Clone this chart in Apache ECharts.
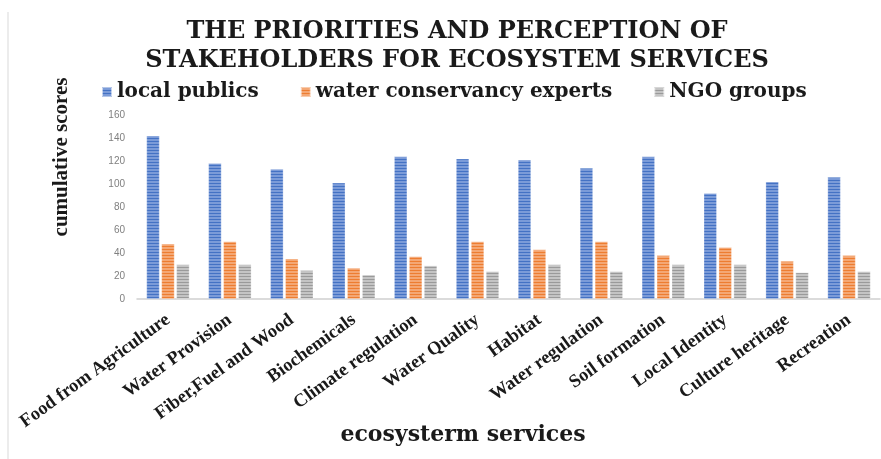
<!DOCTYPE html>
<html>
<head>
<meta charset="utf-8">
<script src="https://cdn.jsdelivr.net/npm/echarts@6/dist/echarts.min.js"></script>
<style>
  html, body { margin: 0; padding: 0; background: #fff; }
  #chart { width: 881px; height: 459px; }
</style>
</head>
<body>
<div id="chart"></div>
<script>
// ecosystem services (x categories)
const categories = [
  "Food from Agriculture", "Water Provision", "Fiber,Fuel and Wood", "Biochemicals",
  "Climate regulation", "Water Quality", "Habitat", "Water regulation",
  "Soil formation", "Local Identity", "Culture heritage", "Recreation"
];
// cumulative scores per group
const localPublics = [142, 118, 113, 101, 124, 122, 121, 114, 124, 92, 102, 106];
const waterExperts = [48, 50, 35, 27, 37, 50, 43, 50, 38, 45, 33, 38];
const ngoGroups = [30, 30, 25, 21, 29, 24, 30, 24, 30, 30, 23, 24];

// striped fill like the original (horizontal lines)
function stripes(dark, light) {
  const c = document.createElement("canvas");
  c.width = 4;
  c.height = 3;
  const ctx = c.getContext("2d");
  ctx.fillStyle = light;
  ctx.fillRect(0, 0, 4, 3);
  ctx.fillStyle = dark;
  ctx.fillRect(0, 0, 4, 1);
  return { image: c, repeat: "repeat" };
}

const chart = echarts.init(document.getElementById("chart"));
const serif = "DejaVu Serif";

function barSeries(name, data, dark, light) {
  return {
    name: name,
    type: "bar",
    data: data,
    barWidth: 13,
    barGap: "15%",
    itemStyle: {
      color: stripes(dark, light),
      borderColor: "rgba(255,255,255,0.6)",
      borderWidth: 0.5
    }
  };
}

chart.setOption({
  backgroundColor: "#fff",
  animation: false,
  title: {
    text: "THE PRIORITIES AND PERCEPTION OF\nSTAKEHOLDERS FOR ECOSYSTEM SERVICES",
    left: 452,
    top: 12,
    textAlign: "center",
    textStyle: {
      fontFamily: serif,
      fontWeight: "bold",
      fontSize: 24,
      lineHeight: 29,
      color: "#1a1a1a"
    }
  },
  legend: {
    top: 77,
    left: 96,
    itemWidth: 10,
    itemHeight: 10,
    itemGap: 41,
    icon: "rect",
    textStyle: {
      fontFamily: serif,
      fontWeight: "bold",
      fontSize: 20,
      color: "#1a1a1a"
    },
    data: ["local publics", "water conservancy experts", "NGO groups"]
  },
  grid: {
    left: 137,
    right: 1,
    top: 115,
    bottom: 160
  },
  xAxis: {
    type: "category",
    data: categories,
    axisLine: { lineStyle: { color: "#d0d0d0", width: 1.5 } },
    axisTick: { length: 5, lineStyle: { color: "#d0d0d0", width: 1.5 } },
    axisLabel: {
      rotate: 36,
      interval: 0,
      margin: 19,
      fontFamily: "Liberation Serif",
      fontWeight: "bold",
      fontSize: 18.5,
      color: "#1a1a1a"
    }
  },
  yAxis: {
    type: "value",
    min: 0,
    max: 160,
    interval: 20,
    axisLine: { show: false },
    axisTick: { show: false },
    splitLine: { show: false },
    axisLabel: {
      fontFamily: "Liberation Sans",
      fontSize: 10,
      color: "#7f7f7f",
      margin: 12
    }
  },
  graphic: [
    {
      type: "line",
      shape: { x1: 8, y1: 12, x2: 8, y2: 459 },
      style: { stroke: "#d9d9d9", lineWidth: 1 }
    },
    {
      // y axis title
      type: "text",
      x: 62,
      y: 157,
      rotation: Math.PI / 2,
      style: {
        text: "cumulative scores",
        fontFamily: "Liberation Serif",
        fontWeight: "bold",
        fontSize: 21,
        fill: "#1a1a1a",
        align: "center",
        verticalAlign: "middle"
      }
    },
    {
      // x axis title
      type: "text",
      x: 463,
      y: 435,
      style: {
        text: "ecosysterm services",
        fontFamily: serif,
        fontWeight: "bold",
        fontSize: 22,
        fill: "#1a1a1a",
        align: "center",
        verticalAlign: "middle"
      }
    }
  ],
  series: [
    barSeries("local publics", localPublics, "#4472c4", "#7b9bd8"),
    barSeries("water conservancy experts", waterExperts, "#ed7d31", "#f4a774"),
    barSeries("NGO groups", ngoGroups, "#9a9a9a", "#c4c4c4")
  ]
});
</script>
</body>
</html>
